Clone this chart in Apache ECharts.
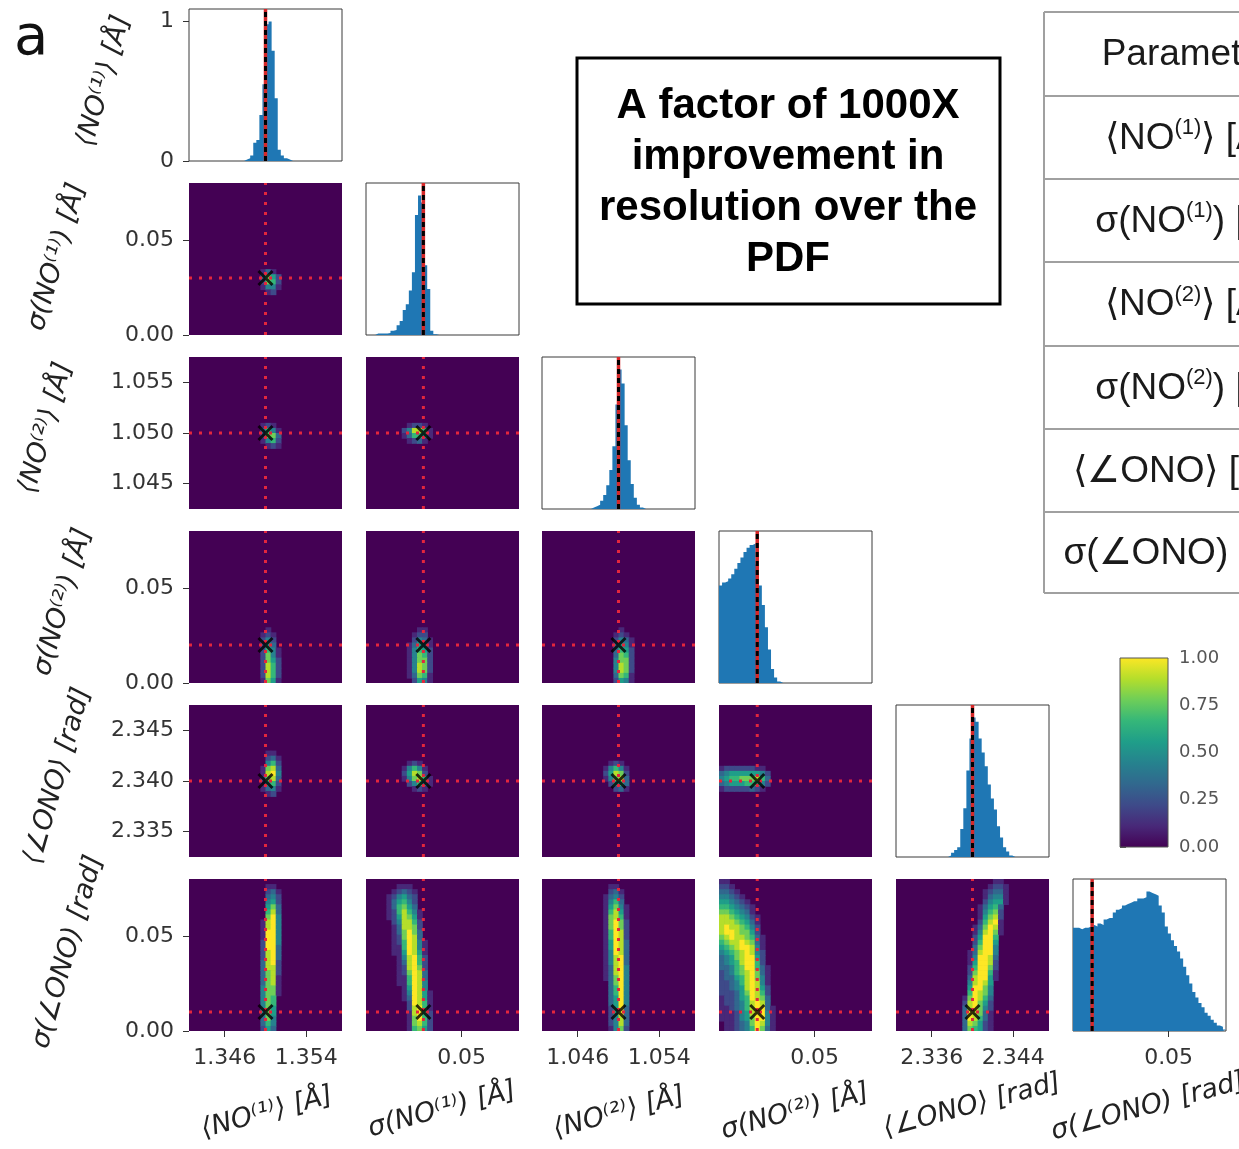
<!DOCTYPE html>
<html><head><meta charset="utf-8">
<script src="https://cdn.jsdelivr.net/npm/echarts@6/dist/echarts.min.js"></script>
<style>html,body{margin:0;padding:0;background:#fff}#c{width:1239px;height:1149px}</style>
</head><body><div id="c"></div>
<script>
// ---------------- data ----------------
const paramLabels = ['⟨NO⁽¹⁾⟩ [Å]', 'σ(NO⁽¹⁾) [Å]', '⟨NO⁽²⁾⟩ [Å]', 'σ(NO⁽²⁾) [Å]', '⟨∠ONO⟩ [rad]', 'σ(∠ONO) [rad]'];
const axisRanges = [[1.3425, 1.3575], [0, 0.08], [1.0425, 1.0575], [0, 0.08], [2.3325, 2.3475], [0, 0.08]];
const trueValues = [1.35, 0.03, 1.05, 0.02, 2.34, 0.01];
const xTickValues = [[1.346, 1.354], [0.05], [1.046, 1.054], [0.05], [2.336, 2.344], [0.05]];
const yTickValues = [[0, 1], [0, 0.05], [1.045, 1.05, 1.055], [0, 0.05], [2.335, 2.34, 2.345], [0, 0.05]];
const tickDecimals = [3, 2, 3, 2, 3, 2];
const histMax = 1.09;
const colorbarTicks = [0, 0.25, 0.5, 0.75, 1];
const tableRows = [
  '{t|Parameter}',
  '{t|⟨NO}{s|(1)}{t|⟩ [Å]}',
  '{t|σ(NO}{s|(1)}{t|) [Å]}',
  '{t|⟨NO}{s|(2)}{t|⟩ [Å]}',
  '{t|σ(NO}{s|(2)}{t|) [Å]}',
  '{t|⟨∠ONO⟩ [rad]}',
  '{t|σ(∠ONO) [rad]}'
];
const boxText = 'A factor of 1000X\nimprovement in\nresolution over the\nPDF';

// normalised histograms, 50 bins across each axis range
const hist0 = [0,0,0,0,0,0,0,0,0,0, 0,0,0,0,0,0,0,0,0.01,0.02, 0.04,0.13,0.15,0.33,0.55,0.98,1.0,0.79,0.45,0.08, 0.04,0.02,0.01,0,0,0,0,0,0,0, 0,0,0,0,0,0,0,0,0,0];
const hist1 = [0,0,0,0.01,0.01,0.01,0.01,0.015,0.03,0.035, 0.07,0.1,0.18,0.22,0.32,0.45,0.86,1.0,0.95,0.5, 0.33,0.03,0.005,0,0,0,0,0,0,0, 0,0,0,0,0,0,0,0,0,0, 0,0,0,0,0,0,0,0,0,0];
const hist2 = [0,0,0,0,0,0,0,0,0,0, 0,0,0,0,0,0,0.01,0.02,0.03,0.06, 0.1,0.17,0.28,0.45,0.75,1.0,0.9,0.6,0.35,0.18, 0.08,0.03,0.01,0,0,0,0,0,0,0, 0,0,0,0,0,0,0,0,0,0];
const hist3 = [0.7,0.72,0.73,0.75,0.78,0.82,0.86,0.9,0.94,0.97, 0.99,1.0,0.85,0.7,0.56,0.4,0.24,0.1,0.04,0.01, 0,0,0,0,0,0,0,0,0,0, 0,0,0,0,0,0,0,0,0,0, 0,0,0,0,0,0,0,0,0,0];
const hist4 = [0,0,0,0,0,0,0,0,0,0, 0,0,0,0,0,0,0,0.01,0.03,0.05, 0.07,0.2,0.35,0.62,0.85,1.0,0.97,0.85,0.75,0.65, 0.52,0.42,0.34,0.22,0.14,0.07,0.04,0.01,0,0, 0,0,0,0,0,0,0,0,0,0];
const hist5 = [0.74,0.74,0.73,0.74,0.74,0.75,0.76,0.75,0.77,0.76, 0.8,0.81,0.81,0.85,0.87,0.88,0.9,0.91,0.92,0.93, 0.93,0.95,0.95,0.96,1.0,0.99,0.98,0.97,0.9,0.85, 0.75,0.7,0.65,0.61,0.57,0.52,0.46,0.4,0.34,0.28, 0.24,0.2,0.17,0.13,0.11,0.08,0.06,0.04,0.03,0.01];
const hists = [hist0, hist1, hist2, hist3, hist4, hist5];

// 2D densities on a 30x30 bin grid; digits 0-9 (9 = max). col/row = bin of first char / top row
const heatBins = 30;
const heatR1C0 = {col: 13, row: 12, rows: ['01310','03752','02762','01441','00120']};
const heatR2C0 = {col: 13, row: 16, rows: ['01210','03641','02773','01462','00121']};
const heatR2C1 = {col: 7, row: 16, rows: ['012210','248861','136651','012310']};
const heatR3C0 = {col: 13, row: 10, rows: ['00100','01210','02420','02530','02641','02741','02752','02862','02862','02862','01751']};
const heatR3C1 = {col: 8, row: 10, rows: ['00110','01220','02431','13541','14652','14762','14772','14872','14872','13761','02541']};
const heatR3C2 = {col: 13, row: 10, rows: ['00100','01210','02431','03541','03652','03762','04772','04872','04872','03761','02541']};
const heatR4C0 = {col: 14, row: 20, rows: ['0110','0231','0462','1783','1894','2783','1562','1341','0120']};
const heatR4C1 = {col: 7, row: 18, rows: ['012100','146410','258720','147861','024641','001210']};
const heatR4C2 = {col: 12, row: 18, rows: ['01210','14641','25872','14783','02563','00231']};
const heatR4C3 = {col: 0, row: 17, rows: ['12222221100','34555555420','45667778630','34555666420','12222232100']};
const heatR5C0 = {col: 13, row: 28, rows: ['00110','00231','00342','00452','00573','00683','00794','01894','01894','01994','01994','02994','02993','02893','02893','03892','03882','03782','03781','03781','04771','04771','04760','04760','04750','04750','03740','03640','02530']};
const heatR5C1 = {col: 4, row: 28, rows: ['0011100000','0123210000','1245320000','1356420000','1367530000','1268641000','1258751000','0248862000','0138872000','0137973000','0127983000','0126984100','0116984100','0115985100','0014896200','0013896200','0012897200','0012798300','0011698300','0011698400','0001598400','0001498510','0001398510','0000298610','0000289610','0000189620','0000179620','0000178620','0000167520']};
const heatR5C2 = {col: 12, row: 28, rows: ['011000','023100','134200','146300','157410','168510','178610','179720','179720','169820','169820','159830','159830','149830','148930','148930','138940','138940','137940','037940','036940','036940','035940','035940','025930','025930','024830','024830','014720']};
const heatR5C3 = {col: 0, row: 29, rows: ['110000000000','221000000000','332100000000','443210000000','554321000000','665432100000','776543100000','887654210000','888765310000','898876420000','899877520000','789887631000','678898731000','567899841000','456789842000','345789952000','345689962000','334679963100','234678973100','233568974100','223468984100','223458985200','222357986200','122356987300','122346898300','112346899310','111245899410','111245799410','011234798410','011234697310']};
const heatR5C4 = {col: 12, row: 29, rows: ['0000000110','0000001221','0000012331','0000013441','0000024551','0000135630','0000146720','0000157820','0000268910','0001379810','0001489710','0002599600','0002699500','0003799400','0013899400','0014998300','0015998200','0026997200','0027996100','0038995100','0048985000','0059974000','0069874000','0179863000','0289752000','0389742000','0398731000','0398631000','0387521000','0376521000']};
const heatPanels = {
  '1-0': heatR1C0, '2-0': heatR2C0, '2-1': heatR2C1,
  '3-0': heatR3C0, '3-1': heatR3C1, '3-2': heatR3C2,
  '4-0': heatR4C0, '4-1': heatR4C1, '4-2': heatR4C2, '4-3': heatR4C3,
  '5-0': heatR5C0, '5-1': heatR5C1, '5-2': heatR5C2, '5-3': heatR5C3, '5-4': heatR5C4
};

// ---------------- styles / layout ----------------
const viridis = ['#440154','#482878','#3e4a89','#31688e','#26828e','#1f9e89','#35b779','#6ece58','#b5de2b','#fde725'];
const colLeft = [189, 366, 542, 719, 896, 1073];
const rowTop = [9, 183, 357, 531, 705, 879];
const PW = 153, PH = 152;
const tickFont = {fontFamily: 'DejaVu Sans', fontSize: 22, color: '#333'};
const xTitlePos = [[267,1113],[442,1110],[619,1113],[795,1112],[972,1106],[1148,1107]];
const yTitlePos = [[104,81],[57,257],[46,428],[63,602],[58,776],[68,952]];

function buildCells(p, c, r) {
  const [x0, x1] = axisRanges[c], [y0, y1] = axisRanges[r];
  const wx = (x1 - x0) / heatBins, wy = (y1 - y0) / heatBins;
  const out = [];
  p.rows.forEach((s, k) => {
    const rowIdx = p.row - k;
    for (let j = 0; j < s.length; j++) {
      const d = +s[j];
      if (d > 0) {
        const ci = p.col + j;
        out.push([x0 + ci * wx, y0 + rowIdx * wy, d, x0 + (ci + 1) * wx, y0 + (rowIdx + 1) * wy]);
      }
    }
  });
  return out;
}
function heatRender(params, api) {
  const a = api.coord([api.value(0), api.value(4)]);
  const b = api.coord([api.value(3), api.value(1)]);
  return {type: 'rect', shape: {x: a[0], y: a[1], width: b[0] - a[0] + 0.7, height: b[1] - a[1] + 0.7},
    style: {fill: api.visual('color')}};
}

const grids = [], xAxes = [], yAxes = [], series = [], heatSeriesIdx = [];
for (let r = 0; r < 6; r++) {
  for (let c = 0; c <= r; c++) {
    const g = grids.length;
    const diag = r === c;
    const bottom = r === 5, left = c === 0;
    grids.push({left: colLeft[c], top: rowTop[r], width: PW, height: PH, show: true,
      backgroundColor: diag ? '#ffffff' : '#440154', borderColor: '#3a3a3a', borderWidth: diag ? 1 : 0,
      outerBoundsMode: 'none'});
    xAxes.push({type: 'value', gridIndex: g, min: axisRanges[c][0], max: axisRanges[c][1],
      axisLine: {show: false}, splitLine: {show: false},
      axisTick: {show: bottom, customValues: xTickValues[c], length: 6, lineStyle: {color: '#333', width: 1}},
      axisLabel: Object.assign({show: bottom, customValues: xTickValues[c], margin: 16,
        formatter: v => v.toFixed(tickDecimals[c])}, tickFont)});
    const yr = diag ? [0, histMax] : axisRanges[r];
    const yDec = r === 0 ? 0 : tickDecimals[r];
    yAxes.push({type: 'value', gridIndex: g, min: yr[0], max: yr[1],
      axisLine: {show: false}, splitLine: {show: false},
      axisTick: {show: left, customValues: yTickValues[r], length: 6, lineStyle: {color: '#333', width: 1}},
      axisLabel: Object.assign({show: left, customValues: yTickValues[r], margin: 15,
        formatter: v => v.toFixed(yDec)}, tickFont)});
    if (diag) {
      const h = hists[c];
      const [mn, mx] = axisRanges[c];
      const w = (mx - mn) / h.length;
      const pts = h.map((v, i) => [mn + i * w, v]);
      pts.push([mx, h[h.length - 1]]);
      series.push({type: 'line', xAxisIndex: g, yAxisIndex: g, data: pts, step: 'end', symbol: 'none',
        lineStyle: {width: 0, opacity: 0}, areaStyle: {color: '#1f77b4', opacity: 1}, silent: true, z: 2});
      const t = trueValues[c];
      series.push({type: 'line', xAxisIndex: g, yAxisIndex: g, data: [[t, 0], [t, histMax]], symbol: 'none',
        lineStyle: {color: '#d62728', width: 3.5}, silent: true, z: 3});
      series.push({type: 'line', xAxisIndex: g, yAxisIndex: g, data: [[t, 0], [t, histMax]], symbol: 'none',
        lineStyle: {color: '#000', width: 3, type: [5, 4]}, silent: true, z: 4});
    } else {
      series.push({type: 'custom', xAxisIndex: g, yAxisIndex: g, data: buildCells(heatPanels[r + '-' + c], c, r),
        renderItem: heatRender, clip: true, silent: true, z: 1});
      heatSeriesIdx.push(series.length - 1);
      const tx = trueValues[c], ty = trueValues[r];
      const dotted = {color: '#e3263d', width: 3, type: [3, 7]};
      series.push({type: 'line', xAxisIndex: g, yAxisIndex: g, symbol: 'none', silent: true, z: 3,
        data: [[tx, axisRanges[r][0]], [tx, axisRanges[r][1]]], lineStyle: dotted});
      series.push({type: 'line', xAxisIndex: g, yAxisIndex: g, symbol: 'none', silent: true, z: 3,
        data: [[axisRanges[c][0], ty], [axisRanges[c][1], ty]], lineStyle: dotted});
      series.push({type: 'scatter', xAxisIndex: g, yAxisIndex: g, silent: true, z: 5,
        data: [[tx, ty]], symbol: 'path://M0,0L10,10M10,0L0,10', symbolSize: 14,
        itemStyle: {color: 'rgba(0,0,0,0)', borderColor: '#000', borderWidth: 3}});
    }
  }
}
// colour bar
const cbg = grids.length;
grids.push({left: 1120, top: 658, width: 48, height: 189, show: false, outerBoundsMode: 'none'});
xAxes.push({type: 'value', gridIndex: cbg, min: 0, max: 1, show: false});
yAxes.push({type: 'value', gridIndex: cbg, min: 0, max: 1, position: 'right',
  axisLine: {show: false}, splitLine: {show: false},
  axisTick: {show: true, customValues: colorbarTicks, length: 6, lineStyle: {color: '#555'}},
  axisLabel: {customValues: colorbarTicks, formatter: v => v.toFixed(2), margin: 11,
    fontFamily: 'DejaVu Sans', fontSize: 18, color: '#555'}});
series.push({type: 'custom', xAxisIndex: cbg, yAxisIndex: cbg, data: [[0, 0, 1, 1]], silent: true,
  renderItem: (p, api) => {
    const a = api.coord([api.value(0), api.value(3)]);
    const b = api.coord([api.value(2), api.value(1)]);
    return {type: 'rect', shape: {x: a[0], y: a[1], width: b[0] - a[0], height: b[1] - a[1]},
      style: {fill: {type: 'linear', x: 0, y: 0, x2: 0, y2: 1,
        colorStops: viridis.slice().reverse().map((col, i) => ({offset: i / (viridis.length - 1), color: col}))},
        stroke: '#555', lineWidth: 1}};
  }});

// ---------------- graphics: titles, text box, table ----------------
const graphic = [];
graphic.push({type: 'text', x: 14, y: 39, style: {text: 'a', fontFamily: 'DejaVu Sans', fontSize: 56, fill: '#111', align: 'left', verticalAlign: 'middle'}});
paramLabels.forEach((lab, i) => {
  graphic.push({type: 'text', x: xTitlePos[i][0], y: xTitlePos[i][1], rotation: 15 * Math.PI / 180,
    style: {text: lab, fontFamily: 'DejaVu Sans', fontStyle: 'italic', fontSize: 27, fill: '#222', align: 'center', verticalAlign: 'middle'}});
  graphic.push({type: 'text', x: yTitlePos[i][0], y: yTitlePos[i][1], rotation: 74 * Math.PI / 180,
    style: {text: lab, fontFamily: 'DejaVu Sans', fontStyle: 'italic', fontSize: 27, fill: '#222', align: 'center', verticalAlign: 'middle'}});
});
graphic.push({type: 'rect', shape: {x: 577, y: 58, width: 423, height: 246}, style: {fill: '#fff', stroke: '#000', lineWidth: 3}});
graphic.push({type: 'text', x: 788, y: 183, style: {text: boxText, fontFamily: '"Liberation Sans", Arial', fontWeight: 'bold',
  fontSize: 42, lineHeight: 51, fill: '#000', align: 'center', verticalAlign: 'middle'}});
const tableLines = [12, 96, 179, 262, 346, 429, 512, 593];
tableLines.forEach(y => graphic.push({type: 'line', shape: {x1: 1044, y1: y, x2: 1300, y2: y}, style: {stroke: '#a0a0a0', lineWidth: 2}}));
graphic.push({type: 'line', shape: {x1: 1044, y1: 12, x2: 1044, y2: 593}, style: {stroke: '#a0a0a0', lineWidth: 2}});
tableRows.forEach((t, i) => {
  graphic.push({type: 'text', x: 1188, y: (tableLines[i] + tableLines[i + 1]) / 2 + 1,
    style: {text: t, align: 'center', verticalAlign: 'middle',
      rich: {t: {fontFamily: '"Liberation Sans", Arial', fontSize: 37, lineHeight: 43, fill: '#1a1a1a', color: '#1a1a1a'},
             s: {fontFamily: '"Liberation Sans", Arial', fontSize: 22, lineHeight: 24, verticalAlign: 'top', fill: '#1a1a1a', color: '#1a1a1a'}}}});
});

const chart = echarts.init(document.getElementById('c'), null, {renderer: 'canvas', width: 1239, height: 1149});
chart.setOption({
  animation: false,
  grid: grids, xAxis: xAxes, yAxis: yAxes,
  visualMap: [{type: 'continuous', show: false, min: 0, max: 9, dimension: 2, seriesIndex: heatSeriesIdx, inRange: {color: viridis}}],
  series: series,
  graphic: graphic
});
</script>
</body></html>
